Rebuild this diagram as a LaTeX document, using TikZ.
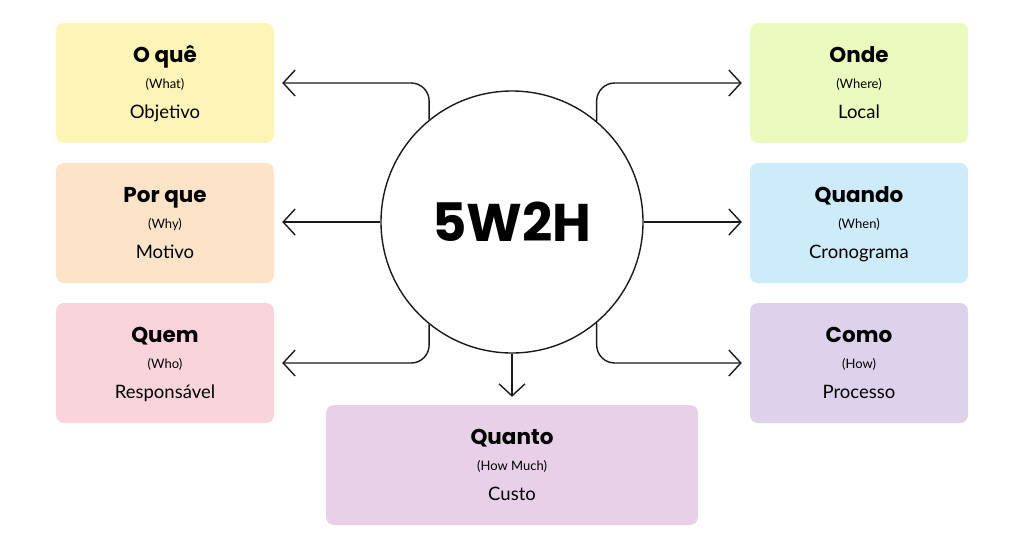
\documentclass[tikz,border=0pt]{standalone}
\usepackage{fontspec}
\setmainfont{Lato}
\newfontfamily\headfont{Poppins}
\usetikzlibrary{arrows.meta}

\begin{document}
\begin{tikzpicture}[x=1pt, y=-1pt,
    box/.style={rectangle, rounded corners=8pt, minimum height=120pt, inner sep=0pt},
    titletext/.style={font=\headfont\bfseries\fontsize{21.5}{22}\selectfont, anchor=base},
    engtext/.style={font=\fontsize{13}{13}\selectfont, anchor=base},
    ptext/.style={font=\fontsize{18.5}{18}\selectfont, anchor=base},
    link/.style={line width=1.4pt, draw=lineColour, rounded corners=18pt,
        -{Straight Barb[length=12pt,width=26pt,line width=1.4pt]}}]
    % Define colours
    \definecolor{lineColour}{HTML}{1A1A1A}
    \definecolor{whatFill}{HTML}{FFF4B8}
    \definecolor{whyFill}{HTML}{FDE4C9}
    \definecolor{whoFill}{HTML}{F9D4DB}
    \definecolor{whereFill}{HTML}{EBFBBD}
    \definecolor{whenFill}{HTML}{CDEBFB}
    \definecolor{howFill}{HTML}{DDD1EC}
    \definecolor{muchFill}{HTML}{E8D0E8}

    % Fix the page size
    \fill[white] (0,0) rectangle (1024,550);
    \useasboundingbox (0,0) rectangle (1024,550);

    % Draw the coloured boxes and their texts
    \foreach \n/\x/\y/\w/\c/\t/\e/\p in {
        what/165/83/218/whatFill/O quê/What/Objetivo,
        why/165/223/218/whyFill/Por que/Why/Motivo,
        who/165/363/218/whoFill/Quem/Who/Responsável,
        where/859/83/218/whereFill/Onde/Where/Local,
        when/859/223/218/whenFill/Quando/When/Cronograma,
        how/859/363/218/howFill/Como/How/Processo,
        much/512/465/372/muchFill/Quanto/How Much/Custo}
    {
        \node[box, fill=\c, minimum width=\w pt] (\n) at (\x,\y) {};
        \node[titletext] (\n-t) at ([yshift=-40pt]\n.north) {\t};
        \node[engtext] (\n-e) at ([yshift=-66pt]\n.north) {(\e)};
        \node[ptext] (\n-p) at ([yshift=-96pt]\n.north) {\p};
    }

    % Draw the central circle
    \node[circle, draw=lineColour, line width=1.4pt, minimum size=262pt,
        font=\headfont\bfseries\fontsize{53}{53}\selectfont] (core) at (512,222) {5W2H};

    % Draw the arrows
    \draw[link] (core.129.3) |- ([xshift=8pt]what.east);
    \draw[link] (core.west) -- ([xshift=8pt]core.west -| why.east);
    \draw[link] (core.-129.3) |- ([xshift=8pt]who.east);
    \draw[link] (core.50.7) |- ([xshift=-8pt]where.west);
    \draw[link] (core.east) -- ([xshift=-8pt]core.east -| when.west);
    \draw[link] (core.-50.7) |- ([xshift=-8pt]how.west);
    \draw[link] (core.south) -- ([yshift=8pt]much.north);

\end{tikzpicture}
\end{document}
